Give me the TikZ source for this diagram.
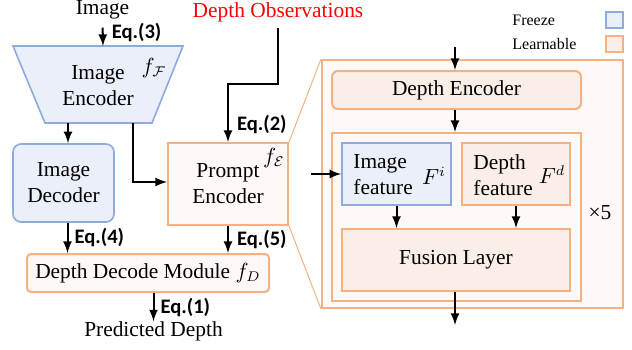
\documentclass[tikz,border=0pt]{standalone}
\usepackage{fontspec}
\setmainfont{Liberation Serif}
\newfontfamily\eqfont{Carlito}
\usetikzlibrary{positioning,calc,arrows}

\definecolor{freezefill}{HTML}{EAEFF9}
\definecolor{freezeline}{HTML}{8FAADC}
\definecolor{learnfill}{HTML}{FBEEE7}
\definecolor{learnline}{HTML}{F4B183}
\definecolor{palefill}{HTML}{FEF9F6}

\begin{document}
\begin{tikzpicture}[
x=0.5pt,y=-0.5pt,
txt/.style={
  font=\fontsize{10.7}{13}\selectfont,
  inner sep=0pt},
small/.style={
  font=\fontsize{8}{9}\selectfont,
  inner sep=0pt},
eqlbl/.style={
  font=\eqfont\bfseries\fontsize{10.3}{12}\selectfont,
  inner sep=0pt},
freeze/.style={
  draw=freezeline,
  fill=freezefill,
  line width=0.8pt},
learn/.style={
  draw=learnline,
  fill=learnfill,
  line width=1pt},
pale/.style={
  draw=learnline,
  fill=palefill,
  line width=1pt},
arr/.style={
  line width=1pt,
  -latex}
]
\useasboundingbox (0,0) rectangle (632,349);
% frozen image branch
\draw[freeze]
  (13,46) coordinate (encTL) --
  (183,46) coordinate (encTR) --
  (152,123) coordinate (encBR) --
  (45,123) coordinate (encBL) -- cycle;
\coordinate (encT) at (103,46);
\coordinate (encB1) at (68,123);
\coordinate (encB2) at (133,123);
\node[txt, align=center] (imgenctxt) at (98,86) {Image\\Encoder};
\node[txt] (fF) at (154,68) {$f_{\mathcal{F}}$};
\node[txt, freeze, rounded corners=4pt, align=center,
  minimum width=50.5pt, minimum height=39pt] (imgdec) at (63.5,183) {Image\\Decoder};
% learnable prompt branch
\node[txt, pale, align=center,
  minimum width=60pt, minimum height=41pt] (prompt) at (228,184) {Prompt\\Encoder};
\node[txt] (fE) at (274,158) {$f_{\mathcal{E}}$};
\node[txt, pale, rounded corners=2pt,
  minimum width=121pt, minimum height=19pt] (decode) at (148,273) {Depth Decode Module $f_D$};
\node[txt] (image) at (102.5,10) {Image};
\node[txt, text=red] (obs) at (278,12) {Depth Observations};
\node[txt] (pred) at (153.5,331.5) {Predicted Depth};
\coordinate (obsbend) at (228,84);
\draw[arr] (image.south) [shorten <=4pt] -- (encT)
  node[eqlbl, midway, right=4pt] (eq3) {Eq.(3)};
\draw[arr] (encB1) -- (encB1 |- imgdec.north);
\draw[arr] (encB2) |- ([yshift=1pt]prompt.west);
\draw[arr] (obs.south) [shorten <=3pt] |- (obsbend) -- (prompt.north)
  node[eqlbl, pos=0.7, right=4pt] (eq2) {Eq.(2)};
\draw[arr] ([xshift=2pt]imgdec.south) -- ([xshift=2pt]imgdec.south |- decode.north)
  node[eqlbl, midway, right=3pt] (eq4) {Eq.(4)};
\draw[arr] (prompt.south) -- (prompt.south |- decode.north)
  node[eqlbl, midway, right=4pt] (eq5) {Eq.(5)};
\draw[arr] (pred |- decode.south) -- (pred.north)
  node[eqlbl, midway, right=3pt] (eq1) {Eq.(1)};
% zoomed prompt encoder
\node[pale, inner sep=0pt,
  minimum width=150.5pt, minimum height=124pt] (outer) at (472.5,184) {};
\draw[learnline, line width=0.5pt] (prompt.north east) -- (outer.north west);
\draw[learnline, line width=0.5pt] (prompt.south east) -- (outer.south west);
\node[txt, learn, rounded corners=3pt,
  minimum width=124.5pt, minimum height=19pt] (depenc) at (456.5,90) {Depth Encoder};
\node[pale, inner sep=0pt,
  minimum width=124.5pt, minimum height=84pt] (inner) at (456.5,217) {};
\node[freeze, inner sep=0pt,
  minimum width=54.5pt, minimum height=31pt] (imgfeat) at (396.5,174) {};
\node[learn, inner sep=0pt,
  minimum width=54pt, minimum height=31pt] (depfeat) at (516,174) {};
\node[txt, align=left, anchor=west] (imgfeattxt) at (353,175) {Image\\feature};
\node[txt, align=left, anchor=west] (depfeattxt) at (473,175) {Depth\\feature};
\node[txt] (Fi) at (434,176) {$F^i$};
\node[txt] (Fd) at (552,175) {$F^d$};
\node[txt, learn,
  minimum width=114pt, minimum height=31pt] (fusion) at (456,260) {Fusion Layer};
\node[txt] (times) at (600,213) {×5};
\coordinate (featin) at (311,174);
\coordinate (depin) at (455,47);
\coordinate (depout) at (455,325);
\draw[arr] (featin) -- (imgfeat.west);
\draw[arr] (depin) -- (depin |- depenc.north);
\draw[arr] (depin |- depenc.south) -- (depin |- inner.north);
\draw[arr] (imgfeat.south) -- (imgfeat.south |- fusion.north);
\draw[arr] (depfeat.south) -- (depfeat.south |- fusion.north);
\draw[arr] (depin |- fusion.south) -- (depout);
% legend
\node[small, anchor=west] (freezetxt) at (512,20) {Freeze};
\node[small, anchor=west] (learntxt) at (512,44) {Learnable};
\node[freeze, inner sep=0pt, minimum width=8.5pt, minimum height=8pt] (freezekey) at (614.5,20) {};
\node[learn, inner sep=0pt, minimum width=8.5pt, minimum height=8pt] (learnkey) at (614.5,44) {};
\end{tikzpicture}
\end{document}
